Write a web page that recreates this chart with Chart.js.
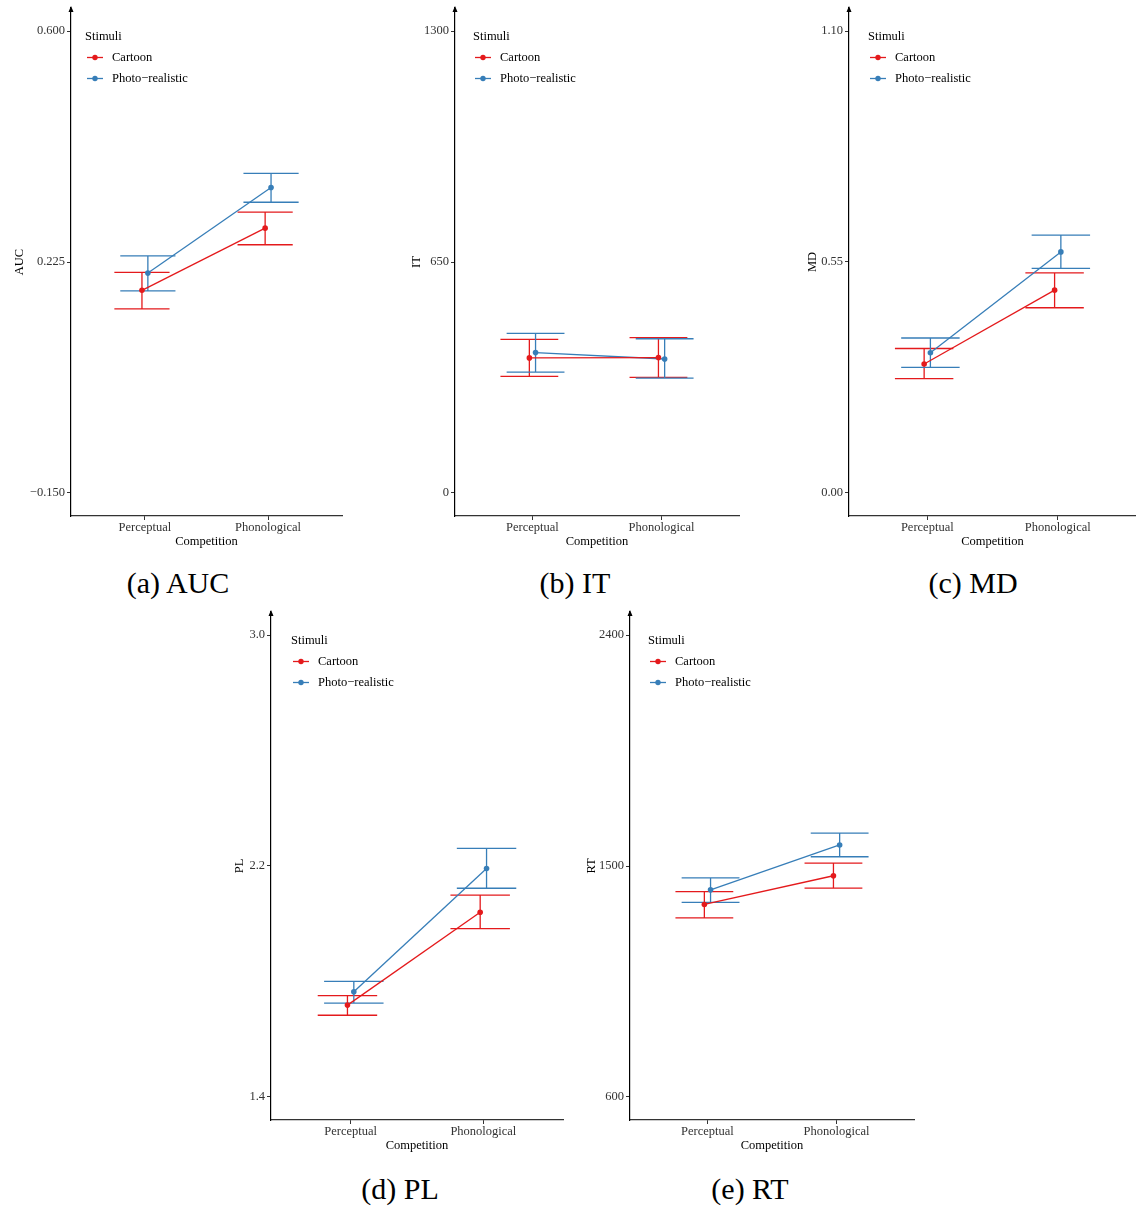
<!DOCTYPE html>
<html>
<head>
<meta charset="utf-8">
<title>Competition x Stimuli</title>
<script src="https://cdn.jsdelivr.net/npm/chart.js@4.4.1/dist/chart.umd.min.js"></script>
<style>
  html, body { margin: 0; padding: 0; background: #fff; overflow: hidden; }
  body { width: 1136px; height: 1209px; position: relative; }
  .panel { position: absolute; }
  .caption {
    position: absolute;
    font-family: 'Liberation Serif', 'Times New Roman', serif;
    font-size: 30px;
    line-height: 34px;
    color: #000;
    transform: translateX(-50%);
    white-space: nowrap;
  }
</style>
</head>
<body>
<script>
// --- dados ---
const competition = ['Perceptual', 'Phonological'];
const stimuli = ['Cartoon', 'Photo\u2212realistic'];
const legendTitle = 'Stimuli';
const xTitle = 'Competition';

// AUC
const aucTicks = [-0.15, 0.225, 0.6];
const aucTickLabels = ['\u22120.150', '0.225', '0.600'];
const aucCartoonMean = [0.179, 0.280];
const aucCartoonLow = [0.149, 0.253];
const aucCartoonHigh = [0.208, 0.306];
const aucPhotoMean = [0.207, 0.346];
const aucPhotoLow = [0.178, 0.322];
const aucPhotoHigh = [0.235, 0.369];

// IT
const itTicks = [0, 650, 1300];
const itTickLabels = ['0', '650', '1300'];
const itCartoonMean = [380, 381];
const itCartoonLow = [328, 325];
const itCartoonHigh = [432, 437];
const itPhotoMean = [395, 377];
const itPhotoLow = [340, 323];
const itPhotoHigh = [449, 434];

// MD
const mdTicks = [0, 0.55, 1.10];
const mdTickLabels = ['0.00', '0.55', '1.10'];
const mdCartoonMean = [0.307, 0.483];
const mdCartoonLow = [0.272, 0.441];
const mdCartoonHigh = [0.344, 0.524];
const mdPhotoMean = [0.334, 0.574];
const mdPhotoLow = [0.299, 0.535];
const mdPhotoHigh = [0.369, 0.614];

// PL
const plTicks = [1.4, 2.2, 3.0];
const plTickLabels = ['1.4', '2.2', '3.0'];
const plCartoonMean = [1.718, 2.040];
const plCartoonLow = [1.683, 1.983];
const plCartoonHigh = [1.751, 2.099];
const plPhotoMean = [1.764, 2.191];
const plPhotoLow = [1.725, 2.123];
const plPhotoHigh = [1.800, 2.261];

// RT
const rtTicks = [600, 1500, 2400];
const rtTickLabels = ['600', '1500', '2400'];
const rtCartoonMean = [1350, 1462];
const rtCartoonLow = [1298, 1414];
const rtCartoonHigh = [1400, 1511];
const rtPhotoMean = [1407, 1582];
const rtPhotoLow = [1358, 1536];
const rtPhotoHigh = [1454, 1628];

// --- estilo ---
const FONT = "'Liberation Serif', 'Times New Roman', serif";
const FONT_SIZE = 12.5;
const RED = '#E41A1C';
const BLUE = '#377EB8';
const DODGE = 0.024;
const CAP_HALF = 0.224;
const Y_AXIS_W = 62;
const X_AXIS_H = 42;
const PAD_TOP = 8;
const PAD_RIGHT = 6;

// barras de erro desenhadas pelas escalas do Chart.js
const errorBarPlugin = {
  id: 'errorBars',
  beforeDatasetsDraw(chart) {
    const ctx = chart.ctx;
    const xs = chart.scales.x, ys = chart.scales.y;
    chart.data.datasets.forEach(ds => {
      ctx.save();
      ctx.strokeStyle = ds.borderColor;
      ctx.lineWidth = 1.3;
      ds.data.forEach((p, i) => {
        const x = xs.getPixelForValue(p.x);
        const x0 = xs.getPixelForValue(p.x - CAP_HALF);
        const x1 = xs.getPixelForValue(p.x + CAP_HALF);
        const yLo = ys.getPixelForValue(ds.errLow[i]);
        const yHi = ys.getPixelForValue(ds.errHigh[i]);
        ctx.beginPath();
        ctx.moveTo(x, yLo); ctx.lineTo(x, yHi);
        ctx.moveTo(x0, yLo); ctx.lineTo(x1, yLo);
        ctx.moveTo(x0, yHi); ctx.lineTo(x1, yHi);
        ctx.stroke();
      });
      ctx.restore();
    });
  }
};

// legenda dentro do painel + seta do eixo y
const insideLegendPlugin = {
  id: 'insideLegend',
  afterDraw(chart, args, opts) {
    const { ctx, chartArea } = chart;
    const x = chartArea.left + opts.dx;
    ctx.save();
    // seta no topo do eixo y
    ctx.fillStyle = '#000';
    ctx.beginPath();
    ctx.moveTo(chartArea.left, chartArea.top - 2);
    ctx.lineTo(chartArea.left - 2.5, chartArea.top + 4);
    ctx.lineTo(chartArea.left + 2.5, chartArea.top + 4);
    ctx.closePath();
    ctx.fill();

    ctx.font = FONT_SIZE + 'px ' + FONT;
    ctx.textBaseline = 'middle';
    ctx.textAlign = 'left';
    ctx.fillText(legendTitle, x, chartArea.top + 28.5);
    chart.data.datasets.forEach((ds, i) => {
      const y = chartArea.top + 49.5 + i * 21;
      ctx.strokeStyle = ds.borderColor;
      ctx.lineWidth = 1.3;
      ctx.beginPath();
      ctx.moveTo(x + 2, y);
      ctx.lineTo(x + 18, y);
      ctx.stroke();
      ctx.fillStyle = ds.borderColor;
      ctx.beginPath();
      ctx.arc(x + 10, y, 2.7, 0, Math.PI * 2);
      ctx.fill();
      ctx.fillStyle = '#000';
      ctx.fillText(ds.label, x + 27, y);
    });
    ctx.restore();
  }
};

function makeSeries(label, color, offset, mean, low, high) {
  return {
    label: label,
    data: mean.map((v, i) => ({ x: i + 1 + offset, y: v })),
    errLow: low,
    errHigh: high,
    borderColor: color,
    backgroundColor: color,
    borderWidth: 1.3,
    pointRadius: 2.8,
    pointBorderWidth: 0,
    showLine: true,
    tension: 0
  };
}

function makePanel(p) {
  const canvasLeft = Math.round(p.left - Y_AXIS_W);
  const canvasTop = Math.round(p.top - PAD_TOP);
  const width = Math.round(p.right - canvasLeft + PAD_RIGHT);
  const height = Math.round(p.bottom + X_AXIS_H - canvasTop);

  const wrap = document.createElement('div');
  wrap.className = 'panel';
  wrap.style.left = canvasLeft + 'px';
  wrap.style.top = canvasTop + 'px';
  const canvas = document.createElement('canvas');
  canvas.width = width;
  canvas.height = height;
  canvas.style.width = width + 'px';
  canvas.style.height = height + 'px';
  wrap.appendChild(canvas);
  document.body.appendChild(wrap);

  const cap = document.createElement('div');
  cap.className = 'caption';
  cap.textContent = p.caption;
  cap.style.left = p.captionX + 'px';
  cap.style.top = (p.captionY - 17) + 'px';
  document.body.appendChild(cap);

  const span = p.ticks[p.ticks.length - 1] - p.ticks[0];
  const titlePad = (p.titleX - canvasLeft) - FONT_SIZE * 0.6;

  new Chart(canvas.getContext('2d'), {
    type: 'scatter',
    data: {
      datasets: [
        makeSeries(stimuli[0], RED, -DODGE, p.cartoon[0], p.cartoon[1], p.cartoon[2]),
        makeSeries(stimuli[1], BLUE, DODGE, p.photo[0], p.photo[1], p.photo[2])
      ]
    },
    options: {
      responsive: false,
      animation: false,
      layout: { padding: { top: PAD_TOP, right: PAD_RIGHT, bottom: 0, left: 0 } },
      plugins: {
        legend: { display: false },
        tooltip: { enabled: false },
        insideLegend: { dx: p.legendDx }
      },
      scales: {
        x: {
          type: 'linear',
          min: 0.4,
          max: 2.6,
          afterBuildTicks: s => { s.ticks = competition.map((c, i) => ({ value: i + 1 })); },
          afterFit: s => { s.height = X_AXIS_H; s.paddingLeft = 0; s.paddingRight = 0; },
          ticks: {
            callback: (v, i) => competition[i],
            font: { family: FONT, size: FONT_SIZE },
            color: '#333',
            padding: 0,
            maxRotation: 0
          },
          grid: { drawOnChartArea: false, drawTicks: true, tickLength: 4, color: '#333' },
          border: { display: true, color: '#333', width: 1.2 },
          title: {
            display: true,
            text: xTitle,
            font: { family: FONT, size: FONT_SIZE },
            color: '#000',
            padding: { top: 0, bottom: 9 }
          }
        },
        y: {
          type: 'linear',
          min: p.ticks[0] - 0.05 * span,
          max: p.ticks[p.ticks.length - 1] + 0.05 * span,
          afterBuildTicks: s => { s.ticks = p.ticks.map(v => ({ value: v })); },
          afterFit: s => { s.width = Y_AXIS_W; s.paddingTop = 0; s.paddingBottom = 0; },
          ticks: {
            callback: (v, i) => p.tickLabels[i],
            font: { family: FONT, size: FONT_SIZE },
            color: '#333',
            padding: 2
          },
          grid: { drawOnChartArea: false, drawTicks: true, tickLength: 4, color: '#333' },
          border: { display: true, color: '#000', width: 1.2 },
          title: {
            display: true,
            text: p.yTitle,
            font: { family: FONT, size: FONT_SIZE },
            color: '#000',
            padding: { top: titlePad, bottom: 0 }
          }
        }
      }
    },
    plugins: [errorBarPlugin, insideLegendPlugin]
  });
}

const panels = [
  { yTitle: 'AUC', caption: '(a) AUC', ticks: aucTicks, tickLabels: aucTickLabels,
    cartoon: [aucCartoonMean, aucCartoonLow, aucCartoonHigh], photo: [aucPhotoMean, aucPhotoLow, aucPhotoHigh],
    left: 71, right: 342, top: 8, bottom: 515.5, titleX: 20, legendDx: 14, captionX: 178, captionY: 583 },
  { yTitle: 'IT', caption: '(b) IT', ticks: itTicks, tickLabels: itTickLabels,
    cartoon: [itCartoonMean, itCartoonLow, itCartoonHigh], photo: [itPhotoMean, itPhotoLow, itPhotoHigh],
    left: 455, right: 739, top: 8, bottom: 515.5, titleX: 416.5, legendDx: 18, captionX: 575, captionY: 583 },
  { yTitle: 'MD', caption: '(c) MD', ticks: mdTicks, tickLabels: mdTickLabels,
    cartoon: [mdCartoonMean, mdCartoonLow, mdCartoonHigh], photo: [mdPhotoMean, mdPhotoLow, mdPhotoHigh],
    left: 849, right: 1136, top: 8, bottom: 515.5, titleX: 813, legendDx: 19, captionX: 973, captionY: 583 },
  { yTitle: 'PL', caption: '(d) PL', ticks: plTicks, tickLabels: plTickLabels,
    cartoon: [plCartoonMean, plCartoonLow, plCartoonHigh], photo: [plPhotoMean, plPhotoLow, plPhotoHigh],
    left: 271, right: 563, top: 612.4, bottom: 1120, titleX: 240, legendDx: 20, captionX: 400, captionY: 1189 },
  { yTitle: 'RT', caption: '(e) RT', ticks: rtTicks, tickLabels: rtTickLabels,
    cartoon: [rtCartoonMean, rtCartoonLow, rtCartoonHigh], photo: [rtPhotoMean, rtPhotoLow, rtPhotoHigh],
    left: 630, right: 914, top: 612.4, bottom: 1120, titleX: 591.7, legendDx: 18, captionX: 750, captionY: 1189 }
];

panels.forEach(makePanel);
</script>
</body>
</html>
